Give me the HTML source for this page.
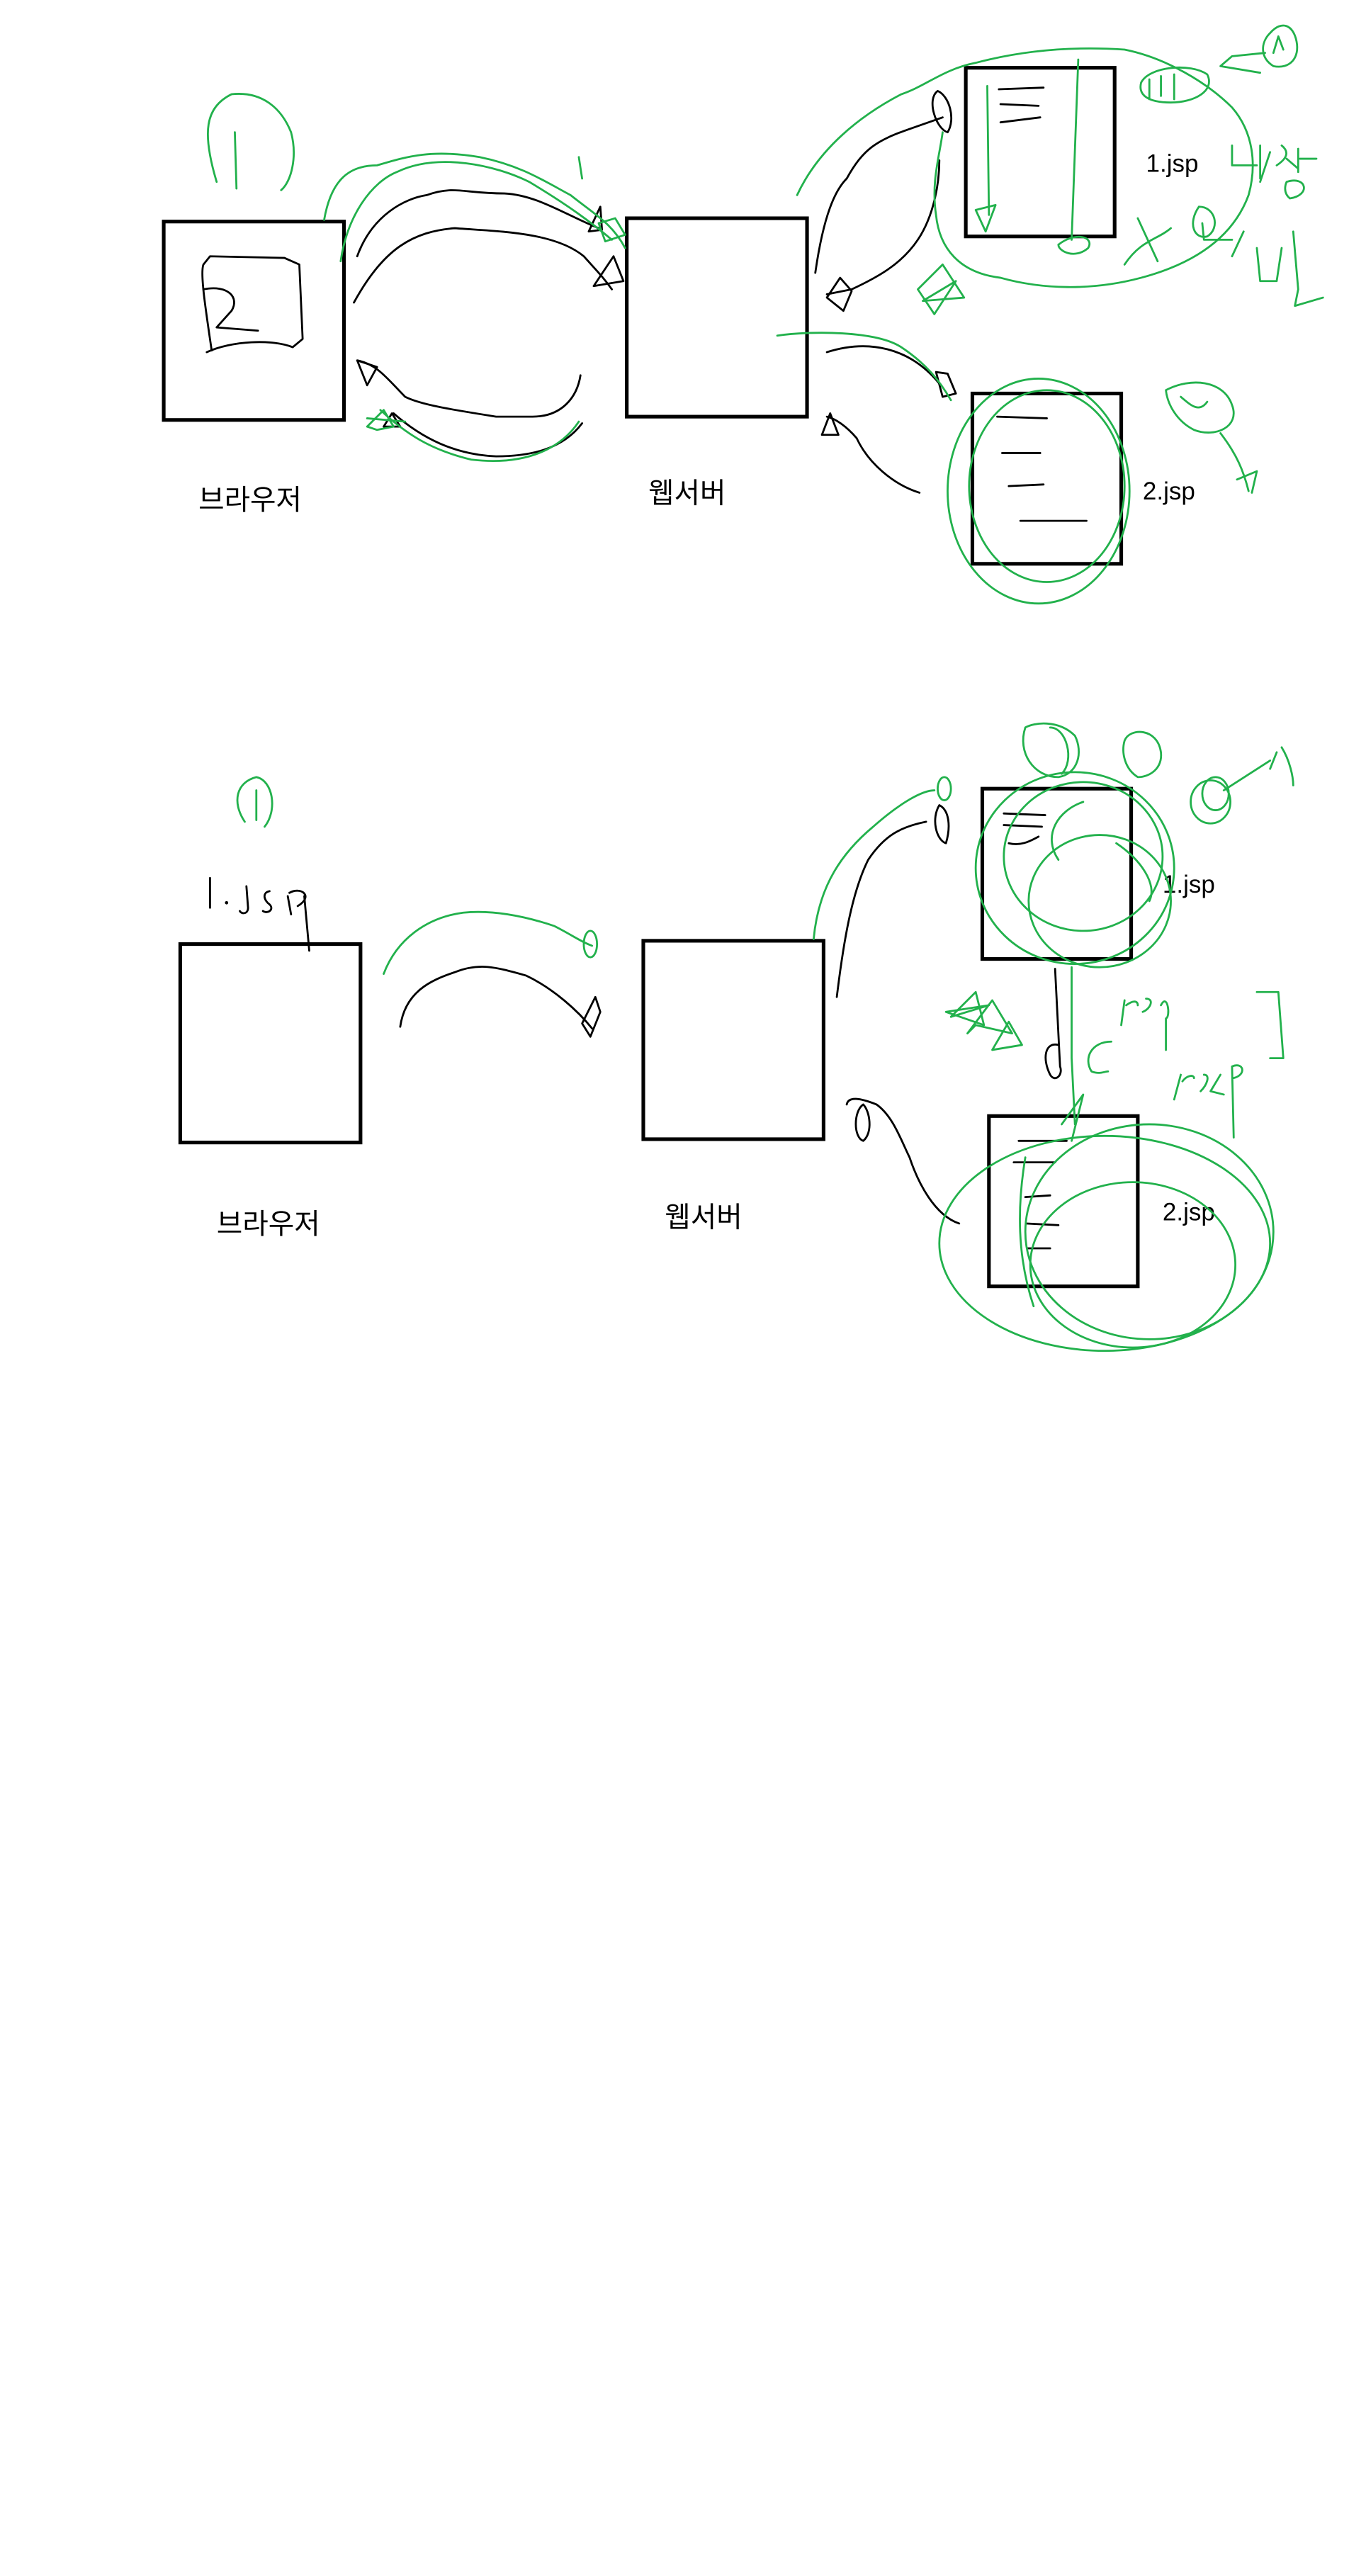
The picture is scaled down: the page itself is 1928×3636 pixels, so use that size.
<!DOCTYPE html>
<html><head><meta charset="utf-8"><style>
html,body{margin:0;padding:0;background:#fff;}
svg{display:block;}
.k{fill:none;stroke:#000;stroke-width:1.2;stroke-linecap:round;stroke-linejoin:round;}
.g{fill:none;stroke:#22b14c;stroke-width:1.2;stroke-linecap:round;stroke-linejoin:round;}
.box{fill:#fff;stroke:#000;stroke-width:2.2;}
.lbl{font-family:"Liberation Sans","Noto Sans CJK KR","NanumGothic",sans-serif;font-size:17px;fill:#000;}
.js{font-family:"Liberation Sans",sans-serif;font-size:15px;fill:#000;}
</style></head><body>
<svg width="1928" height="3636" viewBox="0 0 826 1558" preserveAspectRatio="none" xmlns="http://www.w3.org/2000/svg">
<rect x="0" y="0" width="826" height="1558" fill="#fff"/>

<!-- ===== TOP DIAGRAM ===== -->
<g>
<rect class="box" x="99" y="134" width="109" height="120"/>
<rect class="box" x="379" y="132" width="109" height="120"/>
<rect class="box" x="584" y="41" width="90" height="102"/>
<rect class="box" x="588" y="238" width="90" height="103"/>
<text class="lbl" x="120" y="308">브라우저</text>
<text class="lbl" x="392" y="304">웹서버</text>
<text class="js" x="693" y="104">1.jsp</text>
<text class="js" x="691" y="302">2.jsp</text>

<g>
<path class="k" d="M128,212 C124,185 121,165 123,160 L127,155 L172,156 L181,160 L183,205 L177,210 C165,205 140,206 125,213"/>
<path class="k" d="M123,175 C138,172 145,180 140,188 L131,198 L156,200"/>
</g>
<g>
<path class="k" d="M604,54 L631,53 M605,63 L628,64 M605,74 L629,71"/>
<path class="k" d="M603,252 L633,253 M606,274 L629,274 M610,294 L631,293 M617,315 L657,315"/>
</g>
<g>
<path class="k" d="M216,155 C225,130 245,120 258,118 C275,112 280,117 305,117 C325,118 342,130 362,138"/>
<path class="k" d="M363,125 L356,140 L364,139 Z"/>
<path class="k" d="M214,183 C232,150 250,140 275,138 C300,140 335,140 353,155 C362,165 365,168 370,175"/>
<path class="k" d="M371,155 L359,173 L377,170 Z"/>
<path class="k" d="M351,227 C349,240 340,252 322,252 L300,252 C275,248 255,245 245,240 C235,230 228,220 216,218"/>
<path class="k" d="M216,218 L222,233 L228,222 Z"/>
<path class="k" d="M352,256 C340,272 320,276 300,276 C275,275 255,265 238,250"/>
<path class="k" d="M237,250 L232,258 L242,258 Z"/>
<path class="k" d="M493,165 C498,130 505,115 512,108 C522,90 530,85 550,78 L570,71"/>
<path class="k" d="M567,55 C560,60 566,78 573,80 C578,72 574,58 567,55 Z"/>
<path class="k" d="M500,178 L515,175 C530,168 545,160 555,145 C565,130 568,110 568,97"/>
<path class="k" d="M508,168 L500,180 L510,188 L515,176 Z"/>
<path class="k" d="M500,213 C525,205 550,210 568,232"/>
<path class="k" d="M566,225 L570,240 L578,238 L573,226 Z"/>
<path class="k" d="M556,298 C540,293 525,280 518,265 C512,258 505,253 500,252"/>
<path class="k" d="M502,250 L497,263 L507,263 Z"/>
</g>
<g>
<path class="g" d="M131,110 C122,80 124,65 140,57 C158,55 170,65 176,80 C180,95 176,110 170,115"/>
<path class="g" d="M142,80 L143,114"/>
<path class="g" d="M196,133 C200,110 210,100 228,100 C245,95 260,90 290,95 C315,100 330,110 345,118 C360,130 370,135 378,150"/>
<path class="g" d="M206,158 C210,130 225,110 240,104 C265,92 300,100 320,110 C345,125 358,135 370,145"/>
<path class="g" d="M350,95 L352,108 M362,135 L372,132 L378,142 L366,146 Z"/>
<path class="g" d="M222,258 L232,248 L238,258 L228,260 Z M222,253 L245,255"/>
<path class="g" d="M230,248 C245,262 260,272 285,278 C320,282 340,270 350,255"/>
<path class="g" d="M482,118 C495,90 520,70 545,57 C560,52 570,42 590,38 C620,30 650,28 680,30 C705,35 730,50 745,65 C758,80 760,100 755,118 C745,145 720,160 690,168 C660,176 630,175 605,168 C580,165 568,150 566,130 C563,110 568,95 570,80"/>
<path class="g" d="M597,52 L598,130 M590,127 L602,124 L596,140 Z"/>
<path class="g" d="M652,36 L648,145 M640,148 C650,140 662,143 658,150 C650,157 640,152 640,148"/>
<path class="g" d="M690,50 C695,40 720,38 730,45 C735,55 722,62 708,62 C695,62 688,58 690,50 Z M695,48 L695,60 M702,46 L702,58 M710,45 L710,60"/>
<path class="g" d="M768,20 C775,12 782,15 784,25 C786,35 780,42 770,40 C762,35 762,26 768,20 Z M770,32 L773,22 L776,30"/>
<path class="g" d="M765,32 L745,34 L738,40 L762,44"/>
<path class="g" d="M745,88 L745,100 L760,100 M762,88 L762,108 M768,92 L762,110 M775,88 C780,92 778,96 772,100 M778,96 L785,102 M785,90 L785,104 M786,96 L796,96 M778,110 C790,106 793,118 780,120 C775,116 778,110 778,110"/>
<path class="g" d="M680,160 C690,145 700,145 708,138 M688,132 L700,158 M725,125 C735,125 738,138 730,143 C722,145 718,135 725,125 M727,135 L728,145 L745,145"/>
<path class="g" d="M752,140 L745,155 M760,150 L762,170 L772,170 L775,150 M782,140 L785,175 L783,185 L800,180"/>
<path class="g" d="M555,175 L570,160 L583,180 L558,182 L578,170 L565,190 Z"/>
<path class="g" d="M470,203 C490,200 530,200 545,210 C560,220 568,230 575,242"/>
<ellipse class="g" cx="628" cy="297" rx="55" ry="68"/>
<ellipse class="g" cx="633" cy="294" rx="47" ry="58"/>
<path class="g" d="M705,236 C720,228 740,230 745,245 C750,258 735,265 722,260 C712,255 706,245 705,236 Z M714,240 C720,245 725,250 730,243"/>
<path class="g" d="M738,262 C748,275 752,285 755,297 M748,290 L760,285 L757,298"/>
</g>
</g>

<!-- ===== BOTTOM DIAGRAM ===== -->
<g>
<rect class="box" x="109" y="571" width="109" height="120"/>
<rect class="box" x="389" y="569" width="109" height="120"/>
<rect class="box" x="594" y="477" width="90" height="103"/>
<rect class="box" x="598" y="675" width="90" height="103"/>
<text class="lbl" x="131" y="746">브라우저</text>
<text class="lbl" x="402" y="742">웹서버</text>
<text class="js" x="703" y="540">1.jsp</text>
<text class="js" x="703" y="738">2.jsp</text>

<g>
<path class="k" d="M127,531 L127,549"/>
<circle cx="137" cy="546" r="1" fill="#000"/>
<path class="k" d="M149,536 L150,549 C150,553 146,553 145,551"/>
<path class="k" d="M163,539 C158,540 160,545 163,547 C166,550 162,553 159,551"/>
<path class="k" d="M174,542 L176,553 M175,540 C182,536 190,542 180,548"/>
<path class="k" d="M184,542 L187,575"/>
</g>
<g>
<path class="k" d="M607,492 L632,493 M607,499 L630,500 M610,510 C618,512 624,508 628,506"/>
<path class="k" d="M616,690 L645,690 M613,703 L638,703 M620,724 L635,723 M621,740 L640,741 M621,755 L635,755"/>
</g>
<g>
<path class="k" d="M242,621 C245,600 260,593 275,588 C290,582 300,585 318,590 C335,598 350,612 358,622"/>
<path class="k" d="M360,603 L352,619 L357,627 L363,612 Z"/>
<path class="k" d="M506,603 C510,570 515,540 525,520 C535,505 545,500 560,497"/>
<path class="k" d="M568,487 C563,495 566,508 572,510 C575,500 574,490 568,487 Z"/>
<path class="k" d="M638,586 L641,645 C643,650 638,655 635,650 C630,640 632,630 640,632"/>
<path class="k" d="M580,740 C565,735 555,715 550,700 C545,690 540,675 530,668 C520,664 513,663 512,668"/>
<path class="k" d="M522,668 C516,672 516,688 522,690 C528,685 526,672 522,668 Z"/>
</g>
<g>
<path class="g" d="M148,497 C140,485 143,473 155,470 C165,472 168,490 160,500"/>
<path class="g" d="M155,478 L155,496"/>
<path class="g" d="M232,589 C240,568 258,555 280,552 C300,550 320,555 335,560 C345,565 352,570 358,572"/>
<ellipse class="g" cx="357" cy="571" rx="4" ry="8"/>
<path class="g" d="M492,568 C495,535 510,515 528,500 C545,485 558,478 565,478"/>
<ellipse class="g" cx="571" cy="477" rx="4" ry="7"/>
<ellipse class="g" cx="650" cy="525" rx="60" ry="58"/>
<ellipse class="g" cx="655" cy="518" rx="48" ry="45"/>
<ellipse class="g" cx="665" cy="545" rx="43" ry="40"/>
<path class="g" d="M640,520 C630,505 640,490 655,485 M675,510 C690,520 700,535 695,545"/>
<path class="g" d="M620,440 C615,455 625,470 640,470 C652,468 655,455 650,445 C640,435 625,437 620,440 Z"/>
<path class="g" d="M635,440 C645,440 650,460 642,468"/>
<path class="g" d="M680,448 C683,440 700,440 702,455 C703,465 695,470 688,470 C680,465 678,455 680,448 Z"/>
<ellipse class="g" cx="732" cy="485" rx="12" ry="13"/>
<ellipse class="g" cx="735" cy="480" rx="8" ry="10"/>
<path class="g" d="M740,478 L768,460 M775,452 C780,460 782,470 782,475 M772,455 L768,465"/>
<path class="g" d="M648,585 L648,640 L650,680 M642,680 L655,662 L648,690"/>
<path class="g" d="M575,615 L590,600 L595,620 L572,612 L598,608 Z M585,625 L600,605 L612,625 L590,620 Z M600,635 L610,618 L618,632 Z"/>
<path class="g" d="M672,630 C660,630 655,640 660,648 C665,650 668,648 670,648"/>
<path class="g" d="M678,620 L680,605 M681,608 C685,605 688,605 688,608 M691,612 C696,610 698,604 693,604 M702,608 C706,600 708,615 705,616 L705,635"/>
<path class="g" d="M760,600 L773,600 L776,640 L768,640"/>
<path class="g" d="M710,665 L714,650 M715,654 C718,650 722,650 722,652 M726,660 C730,656 732,650 728,650 M738,650 L732,660 L740,662 M745,645 L746,688 M745,645 C752,642 754,650 746,652"/>
<ellipse class="g" cx="668" cy="752" rx="100" ry="65"/>
<ellipse class="g" cx="695" cy="745" rx="75" ry="65"/>
<ellipse class="g" cx="685" cy="765" rx="62" ry="50"/>
<path class="g" d="M620,700 C615,730 615,760 625,790"/>
</g>
</g>
</svg>
</body></html>
